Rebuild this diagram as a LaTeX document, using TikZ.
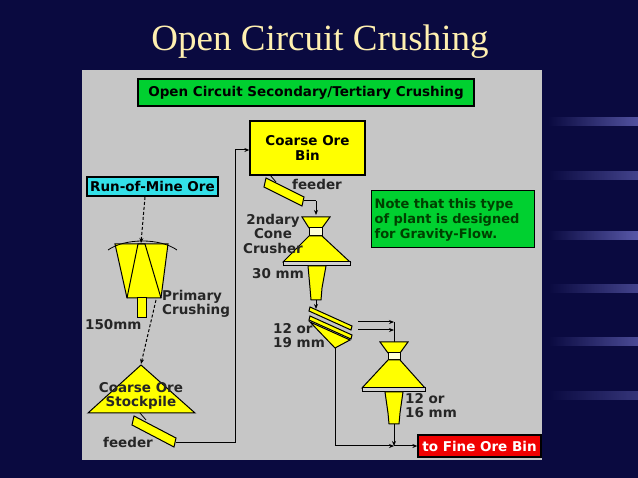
\documentclass[tikz,border=0pt]{standalone}
\usepackage{fontspec}
\setmainfont{DejaVu Sans}
\newfontfamily\serif{Liberation Serif}
\usetikzlibrary{arrows.meta}
\definecolor{bg}{HTML}{0A0A40}
\definecolor{panel}{HTML}{C6C6C6}
\definecolor{yel}{HTML}{FFFF00}
\definecolor{grn}{HTML}{00D030}
\definecolor{cyn}{HTML}{33E0E8}
\definecolor{rd}{HTML}{F00000}
\definecolor{ttl}{HTML}{FFF0B0}
\begin{document}
\begin{tikzpicture}[x=1pt,y=-1pt,
  lbl/.style={font=\fontsize{13.5}{14.5}\selectfont\bfseries,text=black!85,inner sep=0pt,align=left},
  box/.style={draw=black,line width=1.3pt,font=\fontsize{13.5}{14.5}\selectfont\bfseries,inner sep=0pt},
  part/.style={draw=black,fill=yel,line width=1pt},
  flow/.style={black,line width=1pt,-{Stealth[length=5pt,width=4pt]}},
  dflow/.style={flow,dash pattern=on 3pt off 2pt}]
\fill[bg] (0,0) rectangle (638,478);
\foreach \y/\o in {118/0.5,172/0.4,232/0.55,285/0.4,338/0.45,392/0.3}{
  \shade[left color=bg,right color=blue!40!white,opacity=\o] (548,\y) rectangle (638,\y+8);}
\node[font=\serif\fontsize{37}{38}\selectfont,text=ttl] (title) at (320,42) {Open Circuit Crushing};
\fill[panel] (82,70) rectangle (542,460);
\node[box,fill=grn,minimum width=336,minimum height=27] (hdr) at (306,92.5) {Open Circuit Secondary/Tertiary Crushing};
\node[box,fill=cyn,minimum width=131,minimum height=19] (rom) at (152.5,186.5) {Run-of-Mine Ore};
% primary crusher
\draw[part] (115,244) -- (168,244) -- (161,298) -- (127,298) -- cycle;
\draw[black,line width=1pt] (127,298) -- (138,244) -- (145,244) -- (161,298);
\draw[black,line width=0.8pt] (108,250) .. controls (125,238) and (160,238) .. (177,250);
\draw[part] (137,298) rectangle (146,318);
\coordinate (pc) at (141,243);
\node[lbl,anchor=north west] (prim) at (162,290) {Primary\\Crushing};
\node[lbl,anchor=north west] (p150) at (85,319) {150mm};
% stockpile
\draw[part] (141,365) -- (195,413) -- (88,413) -- cycle;
\node[lbl,align=center] (sp) at (141,396) {Coarse Ore\\Stockpile};
\coordinate (spt) at (141,364);
\draw[dflow] (145,197) -- (pc);
\draw[dflow] (156,300) -- (spt);
% feeder 1
\draw[part] (134,416) -- (176,438) -- (174,447) -- (132,425) -- cycle;
\draw[black,line width=0.8pt] (140,413) -- (146,420);
\node[lbl,anchor=north west] (f1) at (103,437) {feeder};
% coarse ore bin
\node[box,fill=yel,minimum width=115,minimum height=54,align=center] (bin) at (307.5,148) {Coarse Ore\\Bin};
\coordinate (c1) at (235,443);
\coordinate (c2) at (235,150);
\draw[black,line width=1pt] (176,443) -- (c1) -- (c2);
\draw[flow] (c2) -- (bin.west |- c2);
% feeder 2
\draw[part] (266,178) -- (304,197) -- (302,206) -- (264,187) -- cycle;
\draw[black,line width=0.8pt] (270,175) -- (276,182);
\node[lbl,anchor=north west] (f2) at (292,179) {feeder};
\coordinate (f2e) at (316,201);
\draw[black,line width=1pt] (304,201) -- (f2e);
\draw[flow] (f2e) -- (316,215);
% secondary crusher
\draw[part] (302,217) -- (330,217) -- (322,228) -- (309,228) -- cycle;
\draw[black,fill=white!85!yel,line width=1pt] (309,228) rectangle (322,236);
\draw[part] (309,236) -- (322,236) -- (350,262) -- (283,262) -- cycle;
\draw[black,fill=panel!80!white,line width=1pt] (283,262) rectangle (350,266);
\draw[part] (308,266) -- (326,266) -- (322,288) -- (321,300) -- (311,300) -- (310,288) -- cycle;
\node[lbl,align=center,anchor=north] (sec) at (273,214) {2ndary\\Cone\\Crusher};
\node[lbl,anchor=north west] (m30) at (252,268) {30 mm};
\draw[flow] (316,300) -- (316,309);
% screen
\draw[part] (310,307) -- (352,326) -- (351,330) -- (309,311) -- cycle;
\draw[part] (310,316) -- (352,335) -- (351,339) -- (309,320) -- cycle;
\draw[part] (310,322) -- (350,340) -- (335,348) -- cycle;
\node[lbl,anchor=north west] (m19) at (273,323) {12 or\\19 mm};
\draw[flow] (358,322) -- (394,322);
\draw[flow] (358,330) -- (394,330);
\draw[black,line width=1pt] (394,322) -- (394,342);
% tertiary crusher
\draw[part] (380,342) -- (408,342) -- (400,353) -- (388,353) -- cycle;
\draw[black,fill=white!85!yel,line width=1pt] (388,353) rectangle (400,360);
\draw[part] (388,360) -- (400,360) -- (425,388) -- (362,388) -- cycle;
\draw[black,fill=panel!80!white,line width=1pt] (362,388) rectangle (425,392);
\draw[part] (385,392) -- (403,392) -- (400,413) -- (399,424) -- (389,424) -- (388,413) -- cycle;
\node[lbl,anchor=north west] (m16) at (405,393) {12 or\\16 mm};
% fine ore
\node[box,fill=rd,text=white,minimum width=123,minimum height=22] (fine) at (479.5,446) {to Fine Ore Bin};
\coordinate (h1) at (335,446);
\draw[black,line width=1pt] (335,348) -- (h1);
\draw[flow] (h1) -- (394,446);
\draw[flow] (394,424) -- (394,446);
\draw[flow] (394,446) -- (fine.west);
% note
\node[box,fill=grn,minimum width=161,minimum height=57,align=left,text=black!75!green,anchor=north west,text width=157,inner xsep=3pt,font=\fontsize{13}{15}\selectfont\bfseries] (note) at (371,190) {\rule{0pt}{12pt}Note that this type\\of plant is designed\\for Gravity-Flow.};
\end{tikzpicture}
\end{document}
